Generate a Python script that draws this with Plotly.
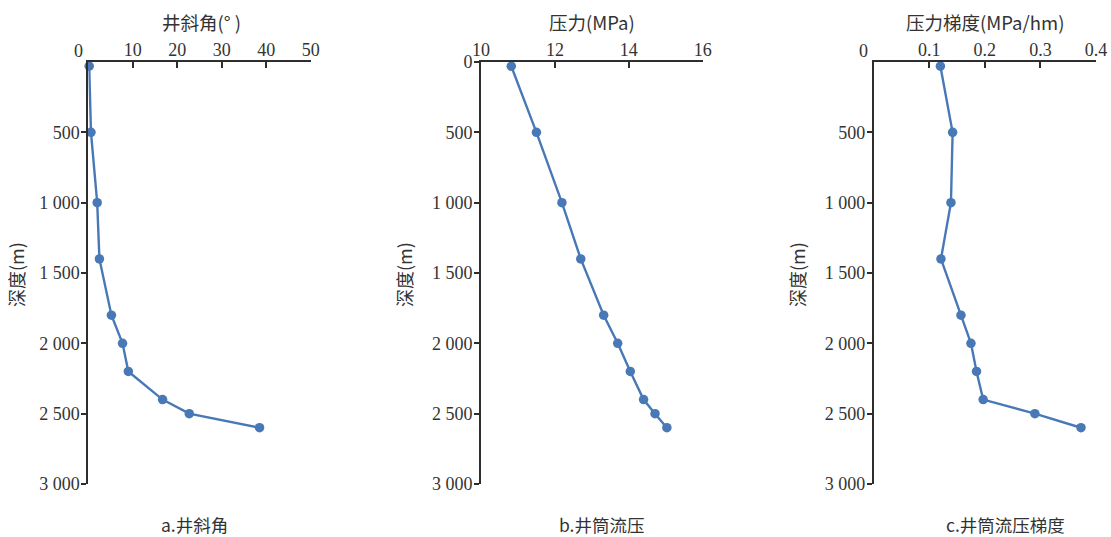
import plotly.graph_objects as go

W, H = 1111, 537

depth = [30, 500, 1000, 1400, 1800, 2000, 2200, 2400, 2500, 2600]
inclination = [0.2, 0.6, 2.0, 2.5, 5.2, 7.7, 9.0, 16.7, 22.7, 38.5]
pressure = [10.82, 11.5, 12.19, 12.7, 13.32, 13.7, 14.04, 14.4, 14.71, 15.03]
gradient = [0.12, 0.142, 0.139, 0.121, 0.157, 0.175, 0.185, 0.197, 0.29, 0.373]

x_titles = ["井斜角(° )", "压力(MPa)", "压力梯度(MPa/hm)"]
captions = ["a.井斜角", "b.井筒流压", "c.井筒流压梯度"]
y_title = "深度(m)"
y_tickvals = [0, 500, 1000, 1500, 2000, 2500, 3000]
y_ticktext = ["0", "500", "1 000", "1 500", "2 000", "2 500", "3 000"]
x_ranges = [[0, 50], [10, 16], [0, 0.4]]
x_tickvals = [[10, 20, 30, 40, 50], [10, 12, 14, 16], [0.1, 0.2, 0.3, 0.4]]
x_ticktext = [["10", "20", "30", "40", "50"], ["10", "12", "14", "16"], ["0.1", "0.2", "0.3", "0.4"]]

COLOR = "rgb(72,121,182)"
AX = "#2e2e2e"
SERIF = "Liberation Serif"
CJK = "Noto Sans CJK SC"

panels_px = [(88.3, 310.7), (481, 702.7), (873.7, 1096)]
top_px, bot_px = 62, 484

def px(x):
    return x / W

def py(y):
    return 1 - y / H

fig = go.Figure()
series = [inclination, pressure, gradient]
for i, vals in enumerate(series):
    sfx = "" if i == 0 else str(i + 1)
    fig.add_trace(go.Scatter(
        x=vals, y=depth, mode="lines+markers",
        line=dict(color=COLOR, width=2.4),
        marker=dict(color=COLOR, size=9.5),
        xaxis="x" + sfx, yaxis="y" + sfx, showlegend=False,
        cliponaxis=False,
    ))
    l, r = panels_px[i]
    show_zero = (i == 1)
    tv = y_tickvals if show_zero else y_tickvals[1:]
    tt = y_ticktext if show_zero else y_ticktext[1:]
    fig.layout["xaxis" + sfx] = dict(
        domain=[px(l), px(r)], range=x_ranges[i], side="top",
        anchor="y" + sfx, showgrid=False, zeroline=False, automargin=False,
        showline=True, linecolor=AX, linewidth=1.7,
        ticks="inside", ticklen=6, tickwidth=1.5, tickcolor=AX,
        tickvals=x_tickvals[i], ticktext=x_ticktext[i],
        tickfont=dict(family=SERIF, size=18, color="#333"),
        ticklabelstandoff=-3,
        fixedrange=True,
    )
    fig.layout["yaxis" + sfx] = dict(
        domain=[py(bot_px), py(top_px)], range=[3000, 0],
        anchor="x" + sfx, showgrid=False, zeroline=False, automargin=False,
        showline=True, linecolor=AX, linewidth=1.7,
        ticks="outside", ticklen=5, tickwidth=1.5, tickcolor=AX,
        tickvals=tv, ticktext=tt,
        tickfont=dict(family=SERIF, size=18, color="#333"),
        ticklabelstandoff=-2,
        fixedrange=True,
    )

annotations = []
title_cx = [201, 592, 985]
cap_cx = [194, 602, 1005]
ylab_x = [16, 404, 797]
for i in range(3):
    annotations.append(dict(
        text=x_titles[i], x=px(title_cx[i]), y=py(22), xref="paper", yref="paper",
        showarrow=False, xanchor="center", yanchor="middle",
        font=dict(family=CJK, size=18.5, color="#333")))
    annotations.append(dict(
        text=captions[i], x=px(cap_cx[i]), y=py(524), xref="paper", yref="paper",
        showarrow=False, xanchor="center", yanchor="middle",
        font=dict(family=CJK, size=17.5, color="#333")))
    annotations.append(dict(
        text=y_title, x=px(ylab_x[i]), y=py(275), xref="paper", yref="paper",
        showarrow=False, xanchor="center", yanchor="middle", textangle=-90,
        font=dict(family=CJK, size=18, color="#333")))
for xc in [78, 863]:
    annotations.append(dict(
        text="0", x=px(xc), y=py(51), xref="paper", yref="paper",
        showarrow=False, xanchor="center", yanchor="middle",
        font=dict(family=SERIF, size=18, color="#333")))

fig.update_layout(
    template="none",
    width=W, height=H,
    margin=dict(l=0, r=0, t=0, b=0),
    paper_bgcolor="white", plot_bgcolor="white",
    annotations=annotations,
)

fig.write_html("out.html", config={"displayModeBar": False},
               post_script="document.body.style.margin='0';document.body.style.overflow='hidden';")
